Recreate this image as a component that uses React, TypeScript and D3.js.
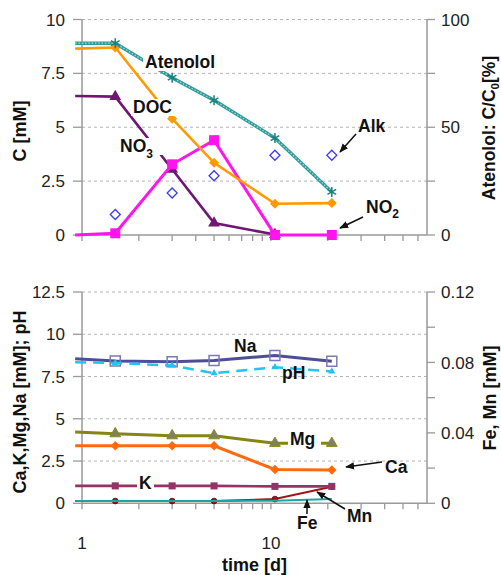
import React from "react";
import * as d3 from "d3";

// Sampling times [d]; the first entry is the initial sample
const days = [0.92, 1.5, 3, 5, 10.5, 21];

// Upper panel
const atenololPct = [89, 89, 73, 62.5, 45, 20];
const doc = [8.65, 8.7, 5.4, 3.35, 1.45, 1.48];
const no3 = [6.45, 6.42, 3.05, 0.55, 0.02];
const no2 = [0, 0.08, 3.28, 4.4, 0, 0];
const alk = [null, 0.95, 1.95, 2.75, 3.7, 3.7];

// Lower panel
const na = [8.55, 8.42, 8.38, 8.45, 8.75, 8.4];
const ph = [8.35, 8.3, 8.15, 7.7, 8.05, 7.8];
const mg = [4.22, 4.12, 4.0, 4.0, 3.55, 3.55];
const ca = [3.4, 3.4, 3.4, 3.4, 2.0, 1.97];
const kk = [1.03, 1.03, 1.03, 1.03, 1.0, 1.0];
const fe = [0.0013, 0.0013, 0.0013, 0.0013, 0.0015, 0.0024];
const mn = [0.0013, 0.0013, 0.0013, 0.0013, 0.0024, 0.0094];

// Axis ticks
const topLeftTicks = [0, 2.5, 5, 7.5, 10];
const topRightTicks = [0, 25, 50, 75, 100];
const topRightLabels = [0, 50, 100];
const botLeftTicks = [0, 2.5, 5, 7.5, 10, 12.5];
const botRightTicks = [0, 0.02, 0.04, 0.06, 0.08, 0.1, 0.12];
const botRightLabels = ["0", "0.04", "0.08", "0.12"];
const xMinorTicks = [1, 2, 3, 4, 5, 6, 7, 8, 9, 10, 20, 30, 40, 50, 60];
const xLabels = [1, 10];

const W = 501;
const H = 575;
const FONT = "'Liberation Sans', Arial, Helvetica, sans-serif";

const x = d3.scaleLog().domain([1, 67]).range([82, 427]);
const yTop = d3.scaleLinear().domain([0, 10]).range([235, 19.5]);
const yTopR = d3.scaleLinear().domain([0, 100]).range([235, 19.5]);
const yBot = d3.scaleLinear().domain([0, 12.5]).range([503.3, 292]);
const yBotR = d3.scaleLinear().domain([0, 0.12]).range([503.3, 292]);

type Scale = d3.ScaleLinear<number, number>;

function linePath(vals: (number | null)[], y: Scale) {
  const pts = vals.map((v, i) => [days[i], v] as [number, number | null]);
  return (
    d3
      .line<[number, number | null]>()
      .defined((d) => d[1] != null)
      .x((d) => x(d[0]))
      .y((d) => y(d[1] as number))(pts) || ""
  );
}

function markers(
  vals: (number | null)[],
  y: Scale,
  type: d3.SymbolType,
  size: number,
  props: any,
  rotate = 0
) {
  const p = d3.symbol().type(type).size(size)() || "";
  return vals.map((v, i) =>
    i === 0 || v == null ? null : (
      <path
        key={i}
        d={p}
        transform={`translate(${x(days[i])},${y(v)}) rotate(${rotate})`}
        {...props}
      />
    )
  );
}

function Label({
  x0,
  y0,
  w,
  h,
  bg,
  children,
  size = 17.5,
}: {
  x0: number;
  y0: number;
  w?: number;
  h?: number;
  bg?: boolean;
  children: React.ReactNode;
  size?: number;
}) {
  return (
    <g>
      {bg && w && h ? (
        <rect x={x0 - 2} y={y0 - h + 1} width={w + 4} height={h + 2} fill="#fff" />
      ) : null}
      <text x={x0} y={y0} fontSize={size} fontWeight="bold" fill="#111">
        {children}
      </text>
    </g>
  );
}

function Arrow({ x1, y1, x2, y2 }: { x1: number; y1: number; x2: number; y2: number }) {
  return (
    <line
      x1={x1}
      y1={y1}
      x2={x2}
      y2={y2}
      stroke="#111"
      strokeWidth={1.5}
      markerEnd="url(#arrowHead)"
    />
  );
}

function XAxis({ y0 }: { y0: number }) {
  return (
    <g>
      <line x1={82} x2={427} y1={y0} y2={y0} stroke="#999" strokeWidth={1.5} />
      {xMinorTicks.map((t) => (
        <line key={t} x1={x(t)} x2={x(t)} y1={y0} y2={y0 + 6} stroke="#999" strokeWidth={1.3} />
      ))}
    </g>
  );
}

function Grid({ ticks, y }: { ticks: number[]; y: Scale }) {
  return (
    <g>
      {ticks
        .filter((t) => t > 0)
        .map((t) => (
          <line
            key={t}
            x1={82}
            x2={427}
            y1={y(t)}
            y2={y(t)}
            stroke="#b5b5b5"
            strokeWidth={1}
            strokeDasharray="3,3"
          />
        ))}
    </g>
  );
}

function LeftAxis({ ticks, y }: { ticks: number[]; y: Scale }) {
  const [lo, hi] = y.range();
  return (
    <g>
      <line x1={82} x2={82} y1={hi} y2={lo} stroke="#999" strokeWidth={1.5} />
      {ticks.map((t) => (
        <g key={t}>
          <line x1={73} x2={82} y1={y(t)} y2={y(t)} stroke="#999" strokeWidth={1.3} />
          <text x={65} y={y(t)} dy="0.36em" textAnchor="end" fontSize={17} fill="#222">
            {t}
          </text>
        </g>
      ))}
    </g>
  );
}

function RightAxis({
  ticks,
  labels,
  y,
}: {
  ticks: number[];
  labels: (string | number)[];
  y: Scale;
}) {
  const [lo, hi] = y.range();
  return (
    <g>
      <line x1={427} x2={427} y1={hi} y2={lo} stroke="#999" strokeWidth={1.5} />
      {ticks.map((t) => (
        <line key={t} x1={427} x2={435} y1={y(t)} y2={y(t)} stroke="#999" strokeWidth={1.3} />
      ))}
      {labels.map((l) => (
        <text
          key={String(l)}
          x={441}
          y={y(Number(l))}
          dy="0.36em"
          fontSize={17}
          fill="#222"
        >
          {l}
        </text>
      ))}
    </g>
  );
}

export default function App() {
  const diamond = d3.symbolSquare;
  return (
    <svg
      width={W}
      height={H}
      viewBox={`0 0 ${W} ${H}`}
      style={{ position: "absolute", left: 0, top: 0, background: "#fff" }}
      fontFamily={FONT}
    >
      <defs>
        <marker
          id="arrowHead"
          viewBox="0 0 10 10"
          refX={9}
          refY={5}
          markerWidth={6}
          markerHeight={6}
          markerUnits="strokeWidth"
          orient="auto"
        >
          <path d="M0,1 L10,5 L0,9 Z" fill="#111" />
        </marker>
      </defs>

      {/* ---------- Upper panel ---------- */}
      <Grid ticks={topLeftTicks} y={yTop} />
      <XAxis y0={235} />
      <LeftAxis ticks={topLeftTicks} y={yTop} />
      <RightAxis ticks={topRightTicks} labels={topRightLabels} y={yTopR} />

      {/* NO3 */}
      <path d={linePath(no3, yTop)} fill="none" stroke="#6e1672" strokeWidth={2.6} />
      {markers(no3, yTop, d3.symbolTriangle, 60, { fill: "#6e1672" })}

      {/* NO2 */}
      <path d={linePath(no2, yTop)} fill="none" stroke="#ff14ee" strokeWidth={3} />
      {markers(no2, yTop, d3.symbolSquare, 100, { fill: "#ff14ee" })}

      {/* DOC */}
      <path d={linePath(doc, yTop)} fill="none" stroke="#ff9a00" strokeWidth={2.6} />
      {markers(doc, yTop, diamond, 50, { fill: "#ff9a00" }, 45)}

      {/* Atenolol (right axis) */}
      <path d={linePath(atenololPct, yTopR)} fill="none" stroke="#2f9c9c" strokeWidth={3.4} />
      <path
        d={linePath(atenololPct, yTopR)}
        fill="none"
        stroke="#a8dcdc"
        strokeWidth={1.2}
        strokeDasharray="1.5,1.8"
      />
      {markers(atenololPct, yTopR, d3.symbolAsterisk, 70, {
        fill: "none",
        stroke: "#1f8080",
        strokeWidth: 1.5,
      })}

      {/* Alkalinity */}
      {markers(alk, yTop, diamond, 50, { fill: "#fff", stroke: "#3c3cff", strokeWidth: 1.3 }, 45)}

      <Label x0={145} y0={68} w={70} h={15} bg>
        Atenolol
      </Label>
      <Label x0={133} y0={113} w={45} h={15} bg>
        DOC
      </Label>
      <Label x0={120} y0={152} w={42} h={15} bg>
        NO<tspan dy={6} fontSize={12}>3</tspan>
      </Label>
      <Label x0={358} y0={132}>Alk</Label>
      <Arrow x1={356} y1={134} x2={340} y2={152} />
      <Label x0={366} y0={213}>
        NO<tspan dy={5} fontSize={12}>2</tspan>
      </Label>
      <Arrow x1={363} y1={217} x2={340} y2={228} />

      <text
        transform="translate(26,131) rotate(-90)"
        textAnchor="middle"
        fontSize={18}
        fontWeight="bold"
        fill="#111"
      >
        C [mM]
      </text>
      <text
        transform="translate(495,128) rotate(-90)"
        textAnchor="middle"
        fontSize={17.5}
        fontWeight="bold"
        fill="#111"
      >
        Atenolol: C/C<tspan dy={3.5} fontSize={11.5}>0</tspan>
        <tspan dy={-3.5}>[%]</tspan>
      </text>

      {/* ---------- Lower panel ---------- */}
      <Grid ticks={botLeftTicks} y={yBot} />
      <XAxis y0={503.3} />
      <LeftAxis ticks={botLeftTicks} y={yBot} />
      <RightAxis ticks={botRightTicks} labels={botRightLabels} y={yBotR} />

      {/* Mn, Fe (right axis) */}
      <path d={linePath(mn, yBotR)} fill="none" stroke="#a3121a" strokeWidth={2} />
      {markers(mn, yBotR, d3.symbolCircle, 26, { fill: "#a3121a", stroke: "#5a0a0a", strokeWidth: 0.8 })}
      <path d={linePath(fe, yBotR)} fill="none" stroke="#1ea3a3" strokeWidth={2} />

      {/* K */}
      <path d={linePath(kk, yBot)} fill="none" stroke="#963366" strokeWidth={2.6} />
      {markers(kk, yBot, d3.symbolSquare, 50, { fill: "#963366" })}

      {/* Ca */}
      <path d={linePath(ca, yBot)} fill="none" stroke="#ff6a10" strokeWidth={3} />
      {markers(ca, yBot, diamond, 45, { fill: "#ff6a10" }, 45)}

      {/* Mg */}
      <path d={linePath(mg, yBot)} fill="none" stroke="#858511" strokeWidth={3} />
      {markers(mg, yBot, d3.symbolTriangle, 50, { fill: "#7f7f62", stroke: "#8b8b20", strokeWidth: 1 })}

      {/* Na */}
      <path d={linePath(na, yBot)} fill="none" stroke="#4d4d99" strokeWidth={3} />
      {markers(na, yBot, d3.symbolSquare, 100, { fill: "none", stroke: "#7a7ab8", strokeWidth: 1.5 })}

      {/* pH */}
      <path
        d={linePath(ph, yBot)}
        fill="none"
        stroke="#22c4f0"
        strokeWidth={2.5}
        strokeDasharray="11,7"
      />
      {markers(ph, yBot, d3.symbolTriangle, 22, { fill: "#22c4f0" })}

      <Label x0={234} y0={352} w={25} h={14} bg>
        Na
      </Label>
      <Label x0={282} y0={379}>pH</Label>
      <Label x0={290} y0={445} w={29} h={13} bg>
        Mg
      </Label>
      <Label x0={385} y0={473}>Ca</Label>
      <Arrow x1={382} y1={462} x2={346} y2={467} />
      <Label x0={139} y0={488.5} w={13} h={13} bg>
        K
      </Label>
      <Label x0={297} y0={528.5}>Fe</Label>
      <Arrow x1={307} y1={514} x2={307} y2={500} />
      <Label x0={347} y0={522}>Mn</Label>
      <Arrow x1={345} y1={509} x2={317} y2={492} />

      {xLabels.map((t) => (
        <text key={t} x={x(t)} y={548.5} textAnchor="middle" fontSize={17} fill="#222">
          {t}
        </text>
      ))}
      <text x={254.5} y={571} textAnchor="middle" fontSize={18} fontWeight="bold" fill="#111">
        time [d]
      </text>

      <text
        transform="translate(26,402) rotate(-90)"
        textAnchor="middle"
        fontSize={18}
        fontWeight="bold"
        fill="#111"
      >
        Ca,K,Mg,Na [mM]; pH
      </text>
      <text
        transform="translate(496,398) rotate(-90)"
        textAnchor="middle"
        fontSize={18}
        fontWeight="bold"
        fill="#111"
      >
        Fe, Mn [mM]
      </text>
    </svg>
  );
}
